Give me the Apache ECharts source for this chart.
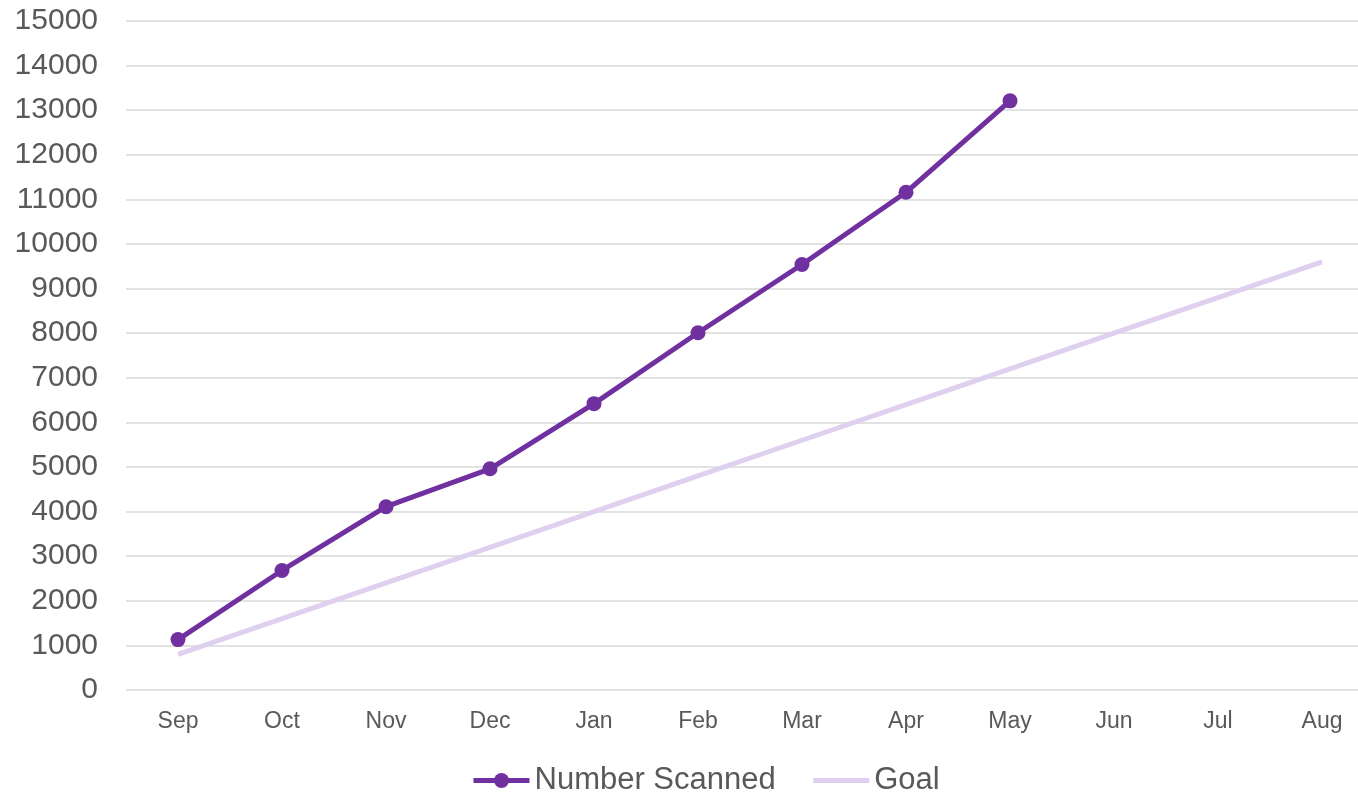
<!DOCTYPE html>
<html>
<head>
<meta charset="utf-8">
<script src="https://cdn.jsdelivr.net/npm/echarts@6/dist/echarts.min.js"></script>
<style>
html,body{margin:0;padding:0;background:#fff;overflow:hidden;width:1358px;height:794px;}
#chart{width:1374px;height:794px;}
</style>
</head>
<body>
<div id="chart"></div>
<script>
var months = ['Sep','Oct','Nov','Dec','Jan','Feb','Mar','Apr','May','Jun','Jul','Aug'];
var numberScanned = [1130, 2680, 4110, 4960, 6420, 8010, 9540, 11160, 13210, null, null, null];
var goal = [800, 1600, 2400, 3200, 4000, 4800, 5600, 6400, 7200, 8000, 8800, 9600];

var FONT = 'Liberation Sans, Arial, sans-serif';
var chart = echarts.init(document.getElementById('chart'));
chart.setOption({
  animation: false,
  grid: { left: 126, right: 0, top: 21, bottom: 104, containLabel: false },
  legend: {
    top: 765,
    left: 471,
    padding: 0,
    itemWidth: 56,
    itemHeight: 19,
    itemGap: 35,
    textStyle: { fontSize: 31, color: '#595959', fontFamily: FONT },
    data: [
      { name: 'Number Scanned', lineStyle: { width: 5 } },
      { name: 'Goal', lineStyle: { width: 5 }, itemStyle: { color: 'rgba(0,0,0,0)', borderWidth: 0 } }
    ]
  },
  xAxis: {
    type: 'category',
    data: months,
    boundaryGap: true,
    axisLine: { show: false },
    axisTick: { show: false },
    axisLabel: { fontSize: 23, color: '#595959', margin: 20, fontFamily: FONT }
  },
  yAxis: {
    type: 'value',
    min: 0,
    max: 15000,
    interval: 1000,
    axisLine: { show: false },
    axisTick: { show: false },
    splitLine: { lineStyle: { color: '#D9D9D9', width: 1.5 } },
    axisLabel: { fontSize: 30, color: '#595959', margin: 28, fontFamily: FONT,
      formatter: function (v) { return String(v); } }
  },
  series: [
    {
      name: 'Number Scanned',
      type: 'line',
      data: numberScanned,
      symbol: 'circle',
      symbolSize: 15,
      showAllSymbol: true,
      lineStyle: { color: '#7030A0', width: 5 },
      itemStyle: { color: '#7030A0' },
      z: 3
    },
    {
      name: 'Goal',
      type: 'line',
      data: goal,
      symbol: 'none',
      lineStyle: { color: '#E0D0F0', width: 5 },
      itemStyle: { color: '#E0D0F0' },
      z: 2
    }
  ]
});
</script>
</body>
</html>
